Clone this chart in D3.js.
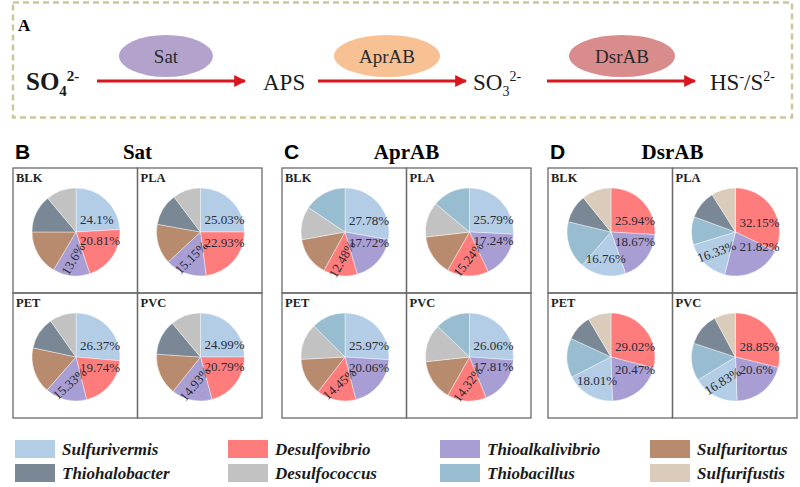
<!DOCTYPE html>
<html>
<head>
<meta charset="utf-8">
<script src="https://cdn.jsdelivr.net/npm/d3@7"></script>
<style>
  body { margin: 0; background: #fff; }
  svg { display: block; }
</style>
</head>
<body>
<div id="chart"></div>
<script>
// genera shown in the legend (legend order)
const genera = ["Sulfurivermis", "Desulfovibrio", "Thioalkalivibrio", "Sulfuritortus",
                "Thiohalobacter", "Desulfococcus", "Thiobacillus", "Sulfurifustis"];
const samples = ["BLK", "PLA", "PET", "PVC"];
const enzymes = ["Sat", "AprAB", "DsrAB"];
const panelLetters = ["B", "C", "D"];

// slice order (clockwise from 12 o'clock) for each enzyme
const satOrder = ["Sulfurivermis", "Desulfovibrio", "Thioalkalivibrio", "Sulfuritortus", "Thiohalobacter", "Desulfococcus"];
const aprOrder = ["Sulfurivermis", "Thioalkalivibrio", "Desulfovibrio", "Sulfuritortus", "Desulfococcus", "Thiobacillus"];
const dsrOrder = ["Desulfovibrio", "Thioalkalivibrio", "Sulfurivermis", "Thiobacillus", "Thiohalobacter", "Sulfurifustis"];

// relative abundance (%) per sample, same order as above
const satValues = {
  BLK: [24.1, 20.81, 13.6, 16.5, 13.9, 11.09],
  PLA: [25.03, 22.93, 15.15, 14.7, 11.9, 10.29],
  PET: [26.37, 19.74, 15.33, 16.9, 11.9, 9.76],
  PVC: [24.99, 20.79, 14.93, 15.3, 12.9, 11.09]
};
const aprValues = {
  BLK: [27.78, 17.72, 12.48, 14.2, 12.2, 15.62],
  PLA: [25.79, 17.24, 15.24, 14.9, 12.9, 13.93],
  PET: [25.97, 20.06, 14.45, 13.7, 13.3, 12.52],
  PVC: [26.06, 17.81, 14.32, 15.1, 13.9, 12.81]
};
const dsrValues = {
  BLK: [25.94, 18.67, 16.76, 17.4, 10.4, 10.83],
  PLA: [32.15, 21.82, 16.33, 10.3, 10.5, 8.9],
  PET: [29.02, 20.47, 18.01, 14.4, 9.6, 8.5],
  PVC: [28.85, 20.6, 16.83, 13.8, 12.1, 7.82]
};

let width = 800, height = 487;
let serif = "\"Liberation Serif\", \"DejaVu Serif\", serif";
let sans = "\"Liberation Sans\", Arial, sans-serif";

let color = d3.scaleOrdinal()
    .domain(genera)
    .range(["#b3cde6", "#ff7c7c", "#a89ed3", "#b88b6e", "#7a8896", "#c2c2c2", "#99bdd0", "#dacbbb"]);

let svg = d3.select("#chart")
    .append("svg")
    .attr("width", width)
    .attr("height", height);

// ---------- panel A ----------
let pa = svg.append("g");

pa.append("rect")
    .attr("x", 13).attr("y", 2.5)
    .attr("width", 779).attr("height", 115)
    .attr("fill", "none")
    .attr("stroke", "#cfc59c")
    .attr("stroke-width", 2.5)
    .attr("stroke-dasharray", "6,4");

pa.append("text")
    .attr("x", 18).attr("y", 31)
    .style("font-family", serif).style("font-weight", "bold").style("font-size", "17px")
    .text("A");

svg.append("defs").append("marker")
    .attr("id", "arrow")
    .attr("viewBox", "0 0 10 10")
    .attr("refX", 9).attr("refY", 5)
    .attr("markerWidth", 4).attr("markerHeight", 4)
    .attr("orient", "auto")
    .append("path")
    .attr("d", "M0,0 L10,5 L0,10 z")
    .attr("fill", "#d9161d");

let step = d3.scaleLinear().domain([0, 1]).range([97, 322]);
let enzymeFill = ["#b3a3cc", "#f8c193", "#d98c8c"];
let enzymeRx = [47, 53, 53];

enzymes.forEach(function (e, i) {
    let x1 = step(i) - (i == 1 ? 4 : 0), x2 = x1 + 150;
    pa.append("line")
        .attr("x1", x1).attr("y1", 81)
        .attr("x2", x2 - 2).attr("y2", 81)
        .attr("stroke", "#d9161d")
        .attr("stroke-width", 3)
        .attr("marker-end", "url(#arrow)");
    let ex = (x1 + x2) / 2 - 6 + (i == 2 ? 6 : 0);
    pa.append("ellipse")
        .attr("cx", ex).attr("cy", 56)
        .attr("rx", enzymeRx[i]).attr("ry", 21)
        .attr("fill", enzymeFill[i]);
    pa.append("text")
        .attr("x", ex).attr("y", 63)
        .attr("text-anchor", "middle")
        .style("font-family", serif).style("font-size", "19px").style("fill", "#2a2a2a")
        .text(e);
});

function compoundText(x, bold) {
    return pa.append("text")
        .attr("x", x).attr("y", 90)
        .style("font-family", serif)
        .style("font-size", bold ? "25px" : "23px")
        .style("font-weight", bold ? "bold" : "normal")
        .style("fill", "#1a1a1a");
}
let t0 = compoundText(26, true);
t0.append("tspan").text("SO");
t0.append("tspan").attr("dy", 6).style("font-size", "15px").text("4");
t0.append("tspan").attr("dy", -15).style("font-size", "15px").text("2-");

compoundText(263, false).text("APS");

let t2 = compoundText(473, false);
t2.append("tspan").text("SO");
t2.append("tspan").attr("dy", 6).style("font-size", "14px").text("3");
t2.append("tspan").attr("dy", -15).style("font-size", "14px").text("2-");

let t3 = compoundText(710, false);
t3.append("tspan").text("HS");
t3.append("tspan").attr("dy", -9).style("font-size", "14px").text("-");
t3.append("tspan").attr("dy", 9).text("/S");
t3.append("tspan").attr("dy", -9).style("font-size", "14px").text("2-");

// ---------- panels B, C, D ----------
let panelX = [13, 282, 548];
let panelW = 249, cellW = panelW / 2, cellH = 125, panelTop = 168;
let r = 44;
let orders = [satOrder, aprOrder, dsrOrder];
let valueSets = [satValues, aprValues, dsrValues];
// tilt of the third label in each pie, as placed in the figure
let thirdTilt = [[-60, -45, -42, -50], [-60, -52, -42, -53], [0, -20, 0, -32]];

let pie = d3.pie().sort(null).value(function (d) { return d.v; });
let arc = d3.arc().innerRadius(0).outerRadius(r);

enzymes.forEach(function (e, p) {
    let g = svg.append("g").attr("transform", "translate(" + panelX[p] + "," + panelTop + ")");

    g.append("text")
        .attr("x", 2).attr("y", -9)
        .style("font-family", sans).style("font-weight", "bold").style("font-size", "21px")
        .text(panelLetters[p]);
    g.append("text")
        .attr("x", panelW / 2).attr("y", -9)
        .attr("text-anchor", "middle")
        .style("font-family", serif).style("font-weight", "bold").style("font-size", "21px")
        .text(e);

    samples.forEach(function (s, k) {
        let col = k % 2, row = Math.floor(k / 2);
        let cell = g.append("g")
            .attr("transform", "translate(" + (col * cellW) + "," + (row * cellH) + ")");

        cell.append("rect")
            .attr("width", cellW).attr("height", cellH)
            .attr("fill", "none")
            .attr("stroke", "#6a6a6a")
            .attr("stroke-width", 1.3);

        cell.append("text")
            .attr("x", 3).attr("y", 14)
            .style("font-family", serif).style("font-weight", "bold").style("font-size", "12.5px")
            .style("fill", "#222")
            .text(s);

        let data = orders[p].map(function (name, i) { return { name: name, v: valueSets[p][s][i] }; });
        let arcs = pie(data);
        let pg = cell.append("g").attr("transform", "translate(63,64)");

        pg.selectAll("path")
            .data(arcs)
            .enter()
            .append("path")
            .attr("d", arc)
            .attr("fill", function (d) { return color(d.data.name); })
            .attr("stroke", "#fff")
            .attr("stroke-width", 0.4);

        arcs.slice(0, 3).forEach(function (d, i) {
            let a = (d.startAngle + d.endAngle) / 2;
            let lab = pg.append("text")
                .style("font-family", serif).style("font-size", "13px")
                .style("fill", "#2b2b35")
                .text(d.data.v + "%");
            if (i < 2) {
                lab.attr("x", 4)
                    .attr("y", -Math.cos(a) * r * 0.38 + 4);
            } else {
                let cx = Math.sin(a) * r * 0.62, cy = -Math.cos(a) * r * 0.62;
                lab.attr("text-anchor", "middle")
                    .attr("dominant-baseline", "central")
                    .attr("transform", "translate(" + cx + "," + cy + ") rotate(" + thirdTilt[p][k] + ")");
            }
        });
    });
});

// ---------- legend ----------
let legX = [15, 228, 440, 650];
let legend = svg.append("g");
genera.forEach(function (name, i) {
    let col = i % 4, row = Math.floor(i / 4);
    let y = 440 + row * 24;
    legend.append("rect")
        .attr("x", legX[col]).attr("y", y)
        .attr("width", 40).attr("height", 18)
        .attr("fill", color(name));
    legend.append("text")
        .attr("x", legX[col] + 47).attr("y", y + 15)
        .style("font-family", serif).style("font-weight", "bold").style("font-style", "italic")
        .style("font-size", "17px").style("fill", "#1a1a1a")
        .text(name);
});
</script>
</body>
</html>
